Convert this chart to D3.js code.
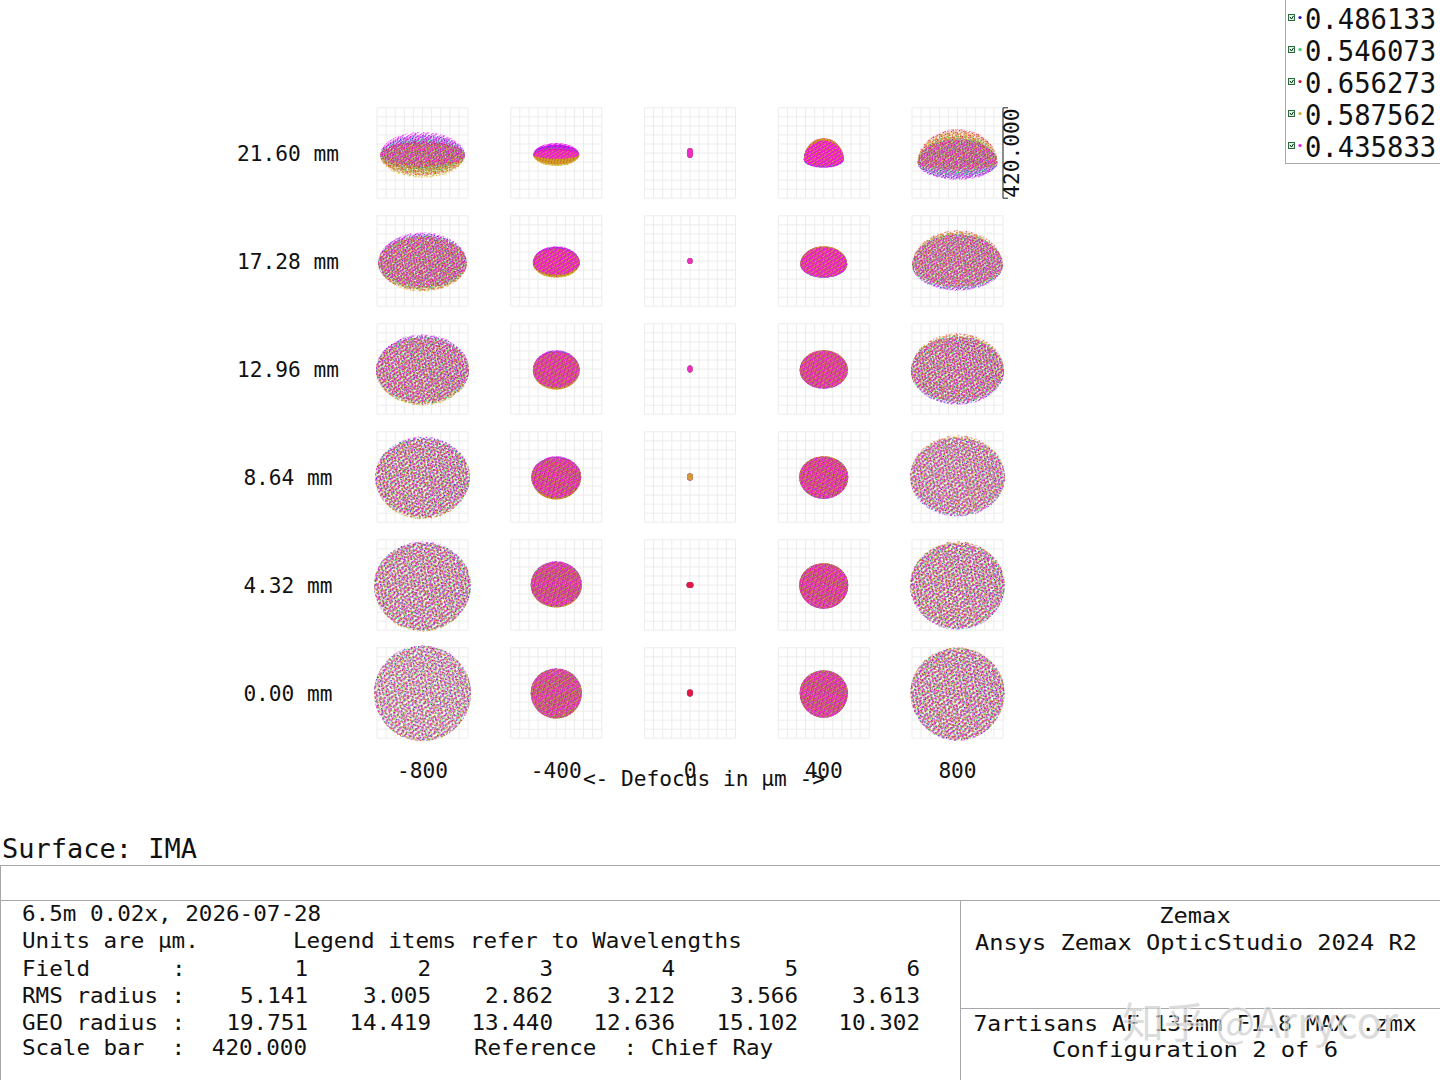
<!DOCTYPE html>
<html>
<head>
  <meta charset="utf-8">
  <script src="https://d3js.org/d3.v7.min.js"></script>
  <style>
    html, body { margin: 0; padding: 0; background: #fff; }
    svg { display: block; }
    text { font-family: "DejaVu Sans Mono", monospace; fill: #111; white-space: pre; }
  </style>
</head>
<body>
<script>
// values
var fields = ["21.60 mm", "17.28 mm", "12.96 mm", "8.64 mm", "4.32 mm", "0.00 mm"];
var defocus = [-800, -400, 0, 400, 800];
var wavelengths = ["0.486133", "0.546073", "0.656273", "0.587562", "0.435833"];
var waveColors = ["#1414c8", "#22d84a", "#e0102e", "#cdb01c", "#f40cf0"];
var scaleBar = 420;

// half width of each spot, then its reach above and below the chief ray (um)
var halfWidth = [
  [196, 106, 14,  92, 185],
  [205, 108, 12, 108, 210],
  [215, 108, 12, 111, 215],
  [219, 115, 14, 113, 219],
  [224, 118, 16, 113, 219],
  [224, 118, 14, 111, 217]
];
var reachUp = [
  [ 97,  46, 23,  69, 111],
  [134,  69, 14,  69, 143],
  [162,  88, 16,  88, 166],
  [189,  97, 16,  97, 194],
  [203, 111, 14, 102, 203],
  [222, 115, 16, 106, 212]
];
var reachDown = [
  [115,  60, 23,  69, 125],
  [143,  78, 14,  78, 138],
  [171,  97, 16,  92, 166],
  [198, 106, 16, 102, 185],
  [217, 106, 14, 111, 208],
  [226, 120, 16, 115, 222]
];
// how far below the chief ray each spot is widest (um)
var waistDrop = [
  [10,  8, 0, 30, 45],
  [10,  8, 0, 15, 20],
  [ 5,  5, 0,  5, 10],
  [ 0,  0, 0,  0,  0],
  [ 0,  0, 0,  0,  0],
  [ 0,  0, 0,  0,  0]
];
// spread between wavelengths in each field at -800, and how it goes with defocus
var colorSpread = [55, 23, 18, 14, 9, 5];
var spreadByDefocus = [1, 0.6, 0, -0.2, -0.9];
var weightBefore = [-0.25, 0.1, 0.3, 0.5, -0.5];
var weightAfter = [-0.4, -0.1, 0.5, 0.3, -0.5];
// wavelength seen on top of the in-focus dot of each field
var focusTop = [4, 4, 4, 3, 2, 2];

var tableFields = [1, 2, 3, 4, 5, 6];
var rmsRadius = ["5.141", "3.005", "2.862", "3.212", "3.566", "3.613"];
var geoRadius = ["19.751", "14.419", "13.440", "12.636", "15.102", "10.302"];

// dot layout of one texture tile, per wavelength (only a texture, not rays)
var tileDots = [
  [[.05,.10],[.55,.05],[.30,.40],[.80,.45],[.10,.75],[.60,.80]],
  [[.20,.22],[.70,.17],[.47,.57],[.95,.60],[.22,.90],[.75,.94]],
  [[.36,.03],[.88,.27],[.12,.42],[.63,.40],[.38,.76],[.90,.74]],
  [[.18,.04],[.72,.30],[.40,.22],[.96,.08],[.25,.60],[.78,.62]],
  [[.45,.12],[.05,.30],[.55,.30],[.04,.55],[.52,.70],[.12,.92]]
];
var tileTurn = [17, 71, 38, 104, 57];

var svg = d3.select("body").append("svg").attr("width", 1440).attr("height", 1080);
var defs = svg.append("defs");
defs.append("filter").attr("id", "soft")
  .append("feGaussianBlur").attr("stdDeviation", 0.4);

function txt(parent, x, y, str, size, adv, anchor) {
  var w = adv * str.length;
  var x0 = anchor === "end" ? x - w : anchor === "middle" ? x - w / 2 : x;
  return parent.append("text").attr("x", x0).attr("y", y)
    .attr("font-size", size)
    .attr("textLength", w).attr("lengthAdjust", "spacingAndGlyphs")
    .text(str);
}

var colX = d3.scalePoint().domain(defocus).range([422.5, 957.5]);
var rowY = d3.scalePoint().domain(fields).range([153, 693]);
var spotX = d3.scaleLinear().domain([-scaleBar / 2, scaleBar / 2]).range([-45.5, 45.5]);
var spotY = d3.scaleLinear().domain([-scaleBar / 2, scaleBar / 2]).range([45.2, -45.2]);
var gridTicks = d3.range(-5, 6).map(function(d) { return d * scaleBar / 10; });

var plot = svg.append("g");

fields.forEach(function(f, r) {
  defocus.forEach(function(z, c) {
    var cell = plot.append("g")
      .attr("transform", "translate(" + colX(z) + "," + rowY(f) + ")");

    // box and 10 x 10 grid
    cell.selectAll("line.v").data(gridTicks).join("line")
      .attr("x1", function(d) { return spotX(d); }).attr("x2", function(d) { return spotX(d); })
      .attr("y1", spotY(-scaleBar / 2)).attr("y2", spotY(scaleBar / 2))
      .attr("stroke", "#ececec").attr("stroke-width", 1);
    cell.selectAll("line.h").data(gridTicks).join("line")
      .attr("x1", spotX(-scaleBar / 2)).attr("x2", spotX(scaleBar / 2))
      .attr("y1", function(d) { return spotY(d); }).attr("y2", function(d) { return spotY(d); })
      .attr("stroke", "#ececec").attr("stroke-width", 1);

    var hw = halfWidth[r][c], up = reachUp[r][c], down = reachDown[r][c];
    var waist = waistDrop[r][c];
    var spread = colorSpread[r] * spreadByDefocus[c];
    // denser rays when the same bundle lands on a smaller patch
    var tile = Math.max(1.2, Math.sqrt((spotX(hw) - spotX(0)) * (spotY(0) - spotY((up + down) / 2))) / 5.5);
    var clouds = cell.append("g").attr("filter", "url(#soft)");

    var order = wavelengths.map(function(w, k) { return k; });
    if (z === 0) {
      order = order.filter(function(k) { return k !== focusTop[r]; }).concat(focusTop[r]);
    }
    order.forEach(function(k) {
      var id = "p" + r + "_" + c + "_" + k;
      var pat = defs.append("pattern").attr("id", id)
        .attr("patternUnits", "userSpaceOnUse")
        .attr("patternTransform", "rotate(" + tileTurn[k] + ")")
        .attr("width", tile).attr("height", tile);
      tileDots[k].forEach(function(d) {
        pat.append("circle")
          .attr("cx", d[0] * tile).attr("cy", d[1] * tile)
          .attr("r", Math.min(0.8, tile * 0.3))
          .attr("fill", waveColors[k]);
      });
      // all colours share the widest line, only top and bottom differ
      var u = spread > 0 ? weightBefore[k] + 0.5 : 0.5 - weightAfter[k];
      var a = Math.abs(spread);
      var rx = spotX(hw) - spotX(0);
      var ryUp = spotY(0) - spotY(Math.max(up + waist - a * u, 2));
      var ryDown = spotY(0) - spotY(Math.max(down - waist - a * (1 - u), 2));
      var cy = spotY(-waist);
      clouds.append("path")
        .attr("d", "M" + (-rx) + "," + cy +
          "A" + rx + "," + ryUp + " 0 0 1 " + rx + "," + cy +
          "A" + rx + "," + ryDown + " 0 0 1 " + (-rx) + "," + cy + "Z")
        .attr("fill", "url(#" + id + ")");
    });
  });
  txt(svg, 288, rowY(f) + 8, f, 20.5, 12.75, "middle");
});

defocus.forEach(function(z) {
  txt(svg, colX(z), 778, String(z), 20.5, 12.75, "middle");
});
txt(svg, 704, 786, "<- Defocus in \u00b5m ->", 20.5, 12.75, "middle");

// scale bar on the top right spot
var barX = colX(800) + spotX(scaleBar / 2);
var barTop = rowY(fields[0]) + spotY(scaleBar / 2), barBot = rowY(fields[0]) + spotY(-scaleBar / 2);
var bar = svg.append("g").attr("stroke", "#222").attr("stroke-width", 1);
bar.append("line").attr("x1", barX).attr("x2", barX).attr("y1", barTop).attr("y2", barBot);
bar.append("line").attr("x1", barX).attr("x2", barX + 5).attr("y1", barTop).attr("y2", barTop);
bar.append("line").attr("x1", barX).attr("x2", barX + 5).attr("y1", barBot).attr("y2", barBot);
txt(svg, 0, 0, scaleBar.toFixed(3), 20.5, 12.75, "middle")
  .attr("transform", "translate(1019," + (barTop + barBot) / 2 + ") rotate(-90)");

// legend
var legend = svg.append("g");
legend.append("rect").attr("x", 1285.5).attr("y", -2).attr("width", 160).attr("height", 165.5)
  .attr("fill", "#fff").attr("stroke", "#aaa");
wavelengths.forEach(function(w, k) {
  var y = 18 + k * 32;
  legend.append("rect").attr("x", 1288.5).attr("y", y - 3.5).attr("width", 6).attr("height", 6)
    .attr("fill", "#dff0df").attr("stroke", "#2c6b3a").attr("stroke-width", 1);
  legend.append("path").attr("d", "M" + 1290 + "," + (y - 1) + "l1.5,2l2,-3")
    .attr("fill", "none").attr("stroke", "#123").attr("stroke-width", 1);
  legend.append("circle").attr("cx", 1300).attr("cy", y - 0.5).attr("r", 1.6).attr("fill", waveColors[k]);
  txt(legend, 1305, y + 11, w, 28, 16.4);
});

// footer frame
txt(svg, 2, 858, "Surface: IMA", 26, 16.25);
var frame = svg.append("g").attr("stroke", "#a8a8a8").attr("stroke-width", 1);
[[0, 865.5, 1440, 865.5], [0, 900.5, 1440, 900.5], [960.5, 900, 960.5, 1080],
 [960, 1008.5, 1440, 1008.5], [0.5, 865, 0.5, 1080]].forEach(function(d) {
  frame.append("line").attr("x1", d[0]).attr("y1", d[1]).attr("x2", d[2]).attr("y2", d[3]);
});

var colRight = [308, 431, 553, 675, 798, 920];
var S = 22, A = 13.6;
txt(svg, 22, 921, "6.5m 0.02x, 2026-07-28", S, A);
txt(svg, 22, 948, "Units are \u00b5m.", S, A);
txt(svg, 293, 948, "Legend items refer to Wavelengths", S, 13.6);
txt(svg, 22, 976, "Field", S, A);
txt(svg, 172, 976, ":", S, A);
txt(svg, 22, 1003, "RMS radius :", S, A);
txt(svg, 22, 1030, "GEO radius :", S, A);
txt(svg, 22, 1055, "Scale bar  :", S, A);
txt(svg, 307, 1055, scaleBar.toFixed(3), S, A, "end");
txt(svg, 474, 1055, "Reference  : Chief Ray", S, A);
tableFields.forEach(function(n, i) {
  txt(svg, colRight[i], 976, String(n), S, A, "end");
  txt(svg, colRight[i], 1003, rmsRadius[i], S, A, "end");
  txt(svg, colRight[i], 1030, geoRadius[i], S, A, "end");
});

txt(svg, 1195, 923, "Zemax", S, 14.26, "middle");
txt(svg, 1196, 950, "Ansys Zemax OpticStudio 2024 R2", S, 14.26, "middle");
txt(svg, 1195, 1031, "7artisans AF 135mm F1.8 MAX .zmx", S, 13.85, "middle");
txt(svg, 1195, 1057, "Configuration 2 of 6", S, 14.3, "middle");

// site watermark over the text
svg.append("text").attr("x", 1122).attr("y", 1038)
  .attr("font-size", 42)
  .style("font-family", "'Noto Sans CJK SC'")
  .style("fill", "rgba(190,190,190,0.55)")
  .style("stroke", "rgba(255,255,255,0.75)").style("stroke-width", 1.5)
  .style("paint-order", "stroke")
  .text("\u77e5\u4e4e @Arrycor");
</script>
</body>
</html>
